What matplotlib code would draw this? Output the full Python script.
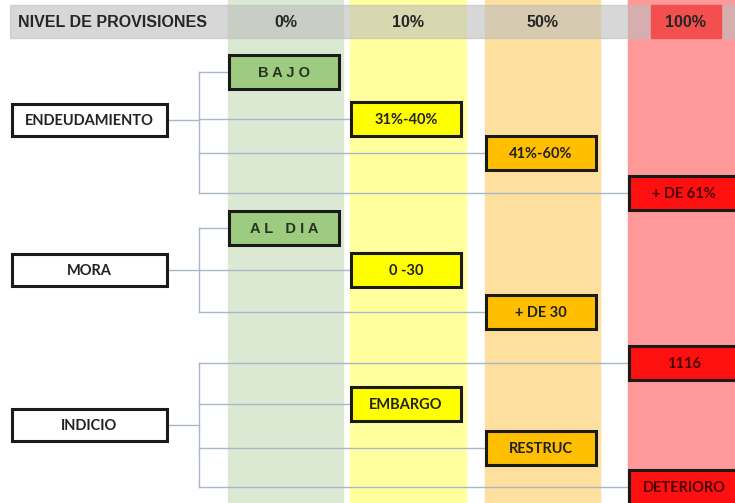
import matplotlib.pyplot as plt
from matplotlib.patches import Rectangle

# Provision levels (columns) and their band colours
levels = ['0%', '10%', '50%', '100%']
header_title = 'NIVEL DE PROVISIONES'

# Criteria and their options: (label, level index)
criteria = ['ENDEUDAMIENTO', 'MORA', 'INDICIO']
endeudamiento_opts = [('B A J O', 0), ('31%-40%', 1), ('41%-60%', 2), ('+ DE 61%', 3)]
mora_opts = [('A L   D I A', 0), ('0 -30', 1), ('+ DE 30', 2)]
indicio_opts = [('1116', 3), ('EMBARGO', 1), ('RESTRUC', 2), ('DETERIORO', 3)]
options = [endeudamiento_opts, mora_opts, indicio_opts]

# Layout (pixel coordinates of the 735x503 canvas)
band_left = [228, 350, 485, 628]
band_width = [115, 116, 115, 107]
band_colors = ['#dbe9d2', '#ffff9e', '#fde09e', '#ff9898']
box_colors = ['#9dcc80', '#ffff00', '#ffbf00', '#ff1010']
text_colors = ['#263320', '#222222', '#222222', '#4a0000']
crit_y = [120, 270, 425]
opt_y = [[72, 119, 153, 193], [228, 270, 312], [363, 404, 448, 487]]
line_color = '#a9b8c9'
bracket_x = 199

fig = plt.figure(figsize=(7.35, 5.03), dpi=100)
ax = fig.add_axes([0, 0, 1, 1])
ax.set_xlim(0, 735)
ax.set_ylim(503, 0)
ax.axis('off')

# Column bands
for left, w, c in zip(band_left, band_width, band_colors):
    ax.add_patch(Rectangle((left, 0), w, 503, color=c, zorder=0))

# Header strip
ax.add_patch(Rectangle((10, 5), 725, 33, color='#bdbdbd', alpha=0.6, zorder=1))
ax.add_patch(Rectangle((651, 5), 70, 33, color='#f44f4f', zorder=1))
head_font = dict(fontsize=11.5, fontweight='bold', family=['Liberation Sans', 'DejaVu Sans'],
                 color='#262626', zorder=2)
ax.text(113, 22, header_title, ha='center', va='center', **head_font)
for i, lab in enumerate(levels):
    cx = band_left[i] + band_width[i] / 2 + (4 if i == 3 else 0)
    ax.text(cx, 22, lab, ha='center', va='center', **head_font)

# Connector lines and boxes
for crit, cy, opts, ys in zip(criteria, crit_y, options, opt_y):
    ax.plot([167, bracket_x], [cy, cy], color=line_color, lw=1, zorder=3)
    ax.plot([bracket_x, bracket_x], [min(ys), max(ys)], color=line_color, lw=1, zorder=3)
    for (lab, lvl), y in zip(opts, ys):
        bx = band_left[lvl] + 1
        ax.plot([bracket_x, bx], [y, y], color=line_color, lw=1, zorder=3)
        ax.add_patch(Rectangle((bx, y - 17), 110, 34, facecolor=box_colors[lvl],
                               edgecolor='#1a1a1a', lw=2.2, zorder=4))
        fam = ['Liberation Sans', 'DejaVu Sans'] if lvl == 0 else ['Lato', 'DejaVu Sans']
        ax.text(bx + 55, y + 1, lab, ha='center', va='center', fontsize=10.5,
                fontweight='bold', family=fam, color=text_colors[lvl], zorder=5)
    ax.add_patch(Rectangle((12, cy - 16), 155, 32, facecolor='white',
                           edgecolor='#1a1a1a', lw=2.2, zorder=4))
    ax.text(89.5, cy + 1, crit, ha='center', va='center', fontsize=10.5,
            fontweight='bold', family=['Lato', 'DejaVu Sans'], color='#222222', zorder=5)

fig.savefig('out.png', dpi=100)
